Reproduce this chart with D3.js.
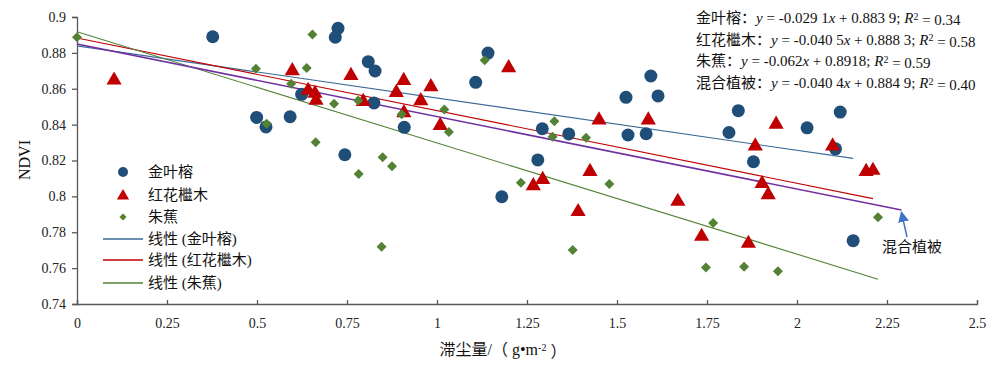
<!DOCTYPE html>
<html><head><meta charset="utf-8">
<script src="https://cdn.jsdelivr.net/npm/d3@7/dist/d3.min.js"></script>
<style>
body{margin:0;background:#fff;}
svg{display:block;font-family:"Liberation Serif","Noto Sans CJK SC",serif;}
</style></head><body>
<svg id="chart" width="1000" height="367"></svg>
<script>
// ---- data ----
const seriesNames = ["金叶榕", "红花檵木", "朱蕉"];
const jinyerong = [[0.377,0.889],[0.499,0.844],[0.525,0.8387],[0.592,0.8444],[0.624,0.8569],[0.7175,0.8887],[0.725,0.8937],[0.744,0.8232],[0.809,0.8751],[0.828,0.8699],[0.825,0.8521],[0.909,0.8385],[1.1075,0.8636],[1.1417,0.8799],[1.18,0.7998],[1.28,0.8203],[1.2925,0.8377],[1.366,0.8348],[1.525,0.8552],[1.5306,0.8342],[1.581,0.8349],[1.594,0.8671],[1.614,0.856],[1.811,0.8356],[1.837,0.8478],[1.879,0.8193],[2.028,0.8382],[2.107,0.8265],[2.12,0.847],[2.156,0.7753]];
const honghuajimu = [[0.103,0.8656],[0.598,0.8708],[0.642,0.8599],[0.661,0.8582],[0.664,0.8543],[0.761,0.8682],[0.795,0.8537],[0.887,0.8587],[0.9075,0.8654],[0.908,0.8474],[0.955,0.8541],[0.983,0.8619],[1.009,0.8403],[1.199,0.8725],[1.2675,0.8067],[1.2936,0.8102],[1.392,0.7923],[1.425,0.8147],[1.45,0.8434],[1.587,0.8434],[1.669,0.798],[1.735,0.7785],[1.865,0.7746],[1.884,0.8289],[1.903,0.8079],[1.92,0.8017],[1.942,0.841],[2.099,0.8289],[2.192,0.8147],[2.211,0.8153]];
const zhujiao = [[0,0.8887],[0.497,0.8712],[0.527,0.8405],[0.595,0.8628],[0.638,0.8716],[0.654,0.8902],[0.663,0.8302],[0.714,0.8517],[0.781,0.8535],[0.7825,0.8125],[0.846,0.7719],[0.849,0.8218],[0.875,0.8168],[0.902,0.8458],[1.0203,0.8485],[1.033,0.8359],[1.1325,0.8759],[1.233,0.8076],[1.321,0.8333],[1.326,0.8419],[1.377,0.7701],[1.414,0.8327],[1.4786,0.8069],[1.747,0.7604],[1.767,0.7852],[1.853,0.7608],[1.947,0.7583],[2.225,0.7884]];
// trend lines: [slope, intercept, xEnd]
const trendJinyerong = [-0.0291, 0.8839, 2.156];
const trendHonghua = [-0.0405, 0.8883, 2.211];
const trendZhujiao = [-0.062, 0.8918, 2.225];
const trendMixed = [-0.0404, 0.8849, 2.29];
const xTicks = [0,0.25,0.5,0.75,1,1.25,1.5,1.75,2,2.25,2.5];
const yTicks = [0.74,0.76,0.78,0.8,0.82,0.84,0.86,0.88,0.9];
const equations = [
  ["金叶榕：", "-0.029 1", "0.883 9", "0.34"],
  ["红花檵木：", "-0.040 5", "0.888 3", "0.58"],
  ["朱蕉：", "-0.062", "0.8918", "0.59"],
  ["混合植被：", "-0.040 4", "0.884 9", "0.40"]
];

// ---- layout ----
const svg = d3.select("#chart");
const x = d3.scaleLinear().domain([0,2.5]).range([77,977]);
const y = d3.scaleLinear().domain([0.74,0.9]).range([304,17]);
const axisColor = "#595959";
const cBlue = "#1F4E79", cRed = "#C00000", cGreen = "#548235", cPurple = "#7030A0", cTrendBlue = "#3A6A96";

// axes
const xAxis = svg.append("g").attr("transform","translate(0,304)")
  .call(d3.axisBottom(x).tickValues(xTicks).tickFormat(d3.format("")).tickSizeInner(-4).tickSizeOuter(-4).tickPadding(14));
const yAxis = svg.append("g").attr("transform","translate(77,0)")
  .call(d3.axisLeft(y).tickValues(yTicks).tickFormat(d=>String(+d.toFixed(2))).tickSizeInner(5).tickSizeOuter(5).tickPadding(6));
[xAxis,yAxis].forEach(g=>{
  g.selectAll("path,line").attr("stroke",axisColor).attr("stroke-width",1.3);
  g.selectAll("text").attr("fill","#222").style("font-size","14px").style("font-family","Liberation Serif");
});

// trend lines
const lines = [[trendJinyerong,cTrendBlue,1.1],[trendHonghua,cRed,1.1],[trendZhujiao,cGreen,1.1],[trendMixed,cPurple,1.6]];
lines.forEach(([t,c,w])=>{
  svg.append("line").attr("x1",x(0)).attr("y1",y(t[1])).attr("x2",x(t[2])).attr("y2",y(t[1]+t[0]*t[2]))
    .attr("stroke",c).attr("stroke-width",w);
});

// markers
const tri = d3.symbol().type(d3.symbolTriangle).size(100);
const sq = d3.symbol().type(d3.symbolSquare).size(50);
svg.append("g").selectAll("circle").data(jinyerong).join("circle")
  .attr("cx",d=>x(d[0])).attr("cy",d=>y(d[1])).attr("r",6.5).attr("fill",cBlue);
svg.append("g").selectAll("path").data(honghuajimu).join("path")
  .attr("d",tri).attr("transform",d=>`translate(${x(d[0])},${y(d[1])+1.5})`).attr("fill",cRed);
svg.append("g").selectAll("path").data(zhujiao).join("path")
  .attr("d",sq).attr("transform",d=>`translate(${x(d[0])},${y(d[1])}) rotate(45)`).attr("fill",cGreen);

// legend
const lg = svg.append("g").style("font-size","15px");
const lx = 123, ltx = 148;
lg.append("circle").attr("cx",lx).attr("cy",172).attr("r",5).attr("fill",cBlue);
lg.append("path").attr("d",d3.symbol().type(d3.symbolTriangle).size(65)).attr("transform",`translate(${lx},196)`).attr("fill",cRed);
lg.append("path").attr("d",d3.symbol().type(d3.symbolSquare).size(26)).attr("transform",`translate(${lx},217) rotate(45)`).attr("fill",cGreen);
const legendRows = [
  [seriesNames[0],172,null],[seriesNames[1],195,null],[seriesNames[2],217,null],
  ["线性 ("+seriesNames[0]+")",239,cTrendBlue],["线性 ("+seriesNames[1]+")",260,cRed],["线性 ("+seriesNames[2]+")",283,cGreen]
];
legendRows.forEach(([t,yy,c])=>{
  if(c) lg.append("line").attr("x1",103).attr("x2",143).attr("y1",yy).attr("y2",yy).attr("stroke",c).attr("stroke-width",1.3);
  lg.append("text").attr("x",ltx).attr("y",yy).attr("dy","0.35em").attr("fill","#111").text(t);
});

// equations
const eg = svg.append("g").style("font-size","15px").attr("fill","#111");
equations.forEach((e,i)=>{
  const t = eg.append("text").attr("x",696).attr("y",18+i*21.6).attr("dy","0.35em");
  t.append("tspan").text(e[0]);
  t.append("tspan").style("font-style","italic").text("y");
  t.append("tspan").text(" = "+e[1]);
  t.append("tspan").style("font-style","italic").text("x");
  t.append("tspan").text(" + "+e[2]+"; ");
  t.append("tspan").style("font-style","italic").text("R");
  t.append("tspan").attr("dy","-0.35em").style("font-size","10px").text("2");
  t.append("tspan").attr("dy","0.35em").text(" = "+e[3]);
});

// annotation arrow
const defs = svg.append("defs");
defs.append("marker").attr("id","ah").attr("viewBox","0 0 10 10").attr("refX",9).attr("refY",5)
  .attr("markerWidth",6).attr("markerHeight",6).attr("markerUnits","userSpaceOnUse").attr("orient","auto")
  .append("path").attr("d","M0,0L10,5L0,10z").attr("fill","#4472C4");
svg.select("#ah").attr("markerWidth",11).attr("markerHeight",11);
svg.append("line").attr("x1",907).attr("y1",237).attr("x2",x(2.29)).attr("y2",y(0.8849 - 0.0404*2.29)+2)
  .attr("stroke","#4472C4").attr("stroke-width",1.5).attr("marker-end","url(#ah)");
svg.append("text").attr("x",912).attr("y",247).attr("dy","0.35em").attr("text-anchor","middle")
  .style("font-size","15px").attr("fill","#111").text("混合植被");

// axis titles
svg.append("text").attr("transform","translate(24,160) rotate(-90)").attr("text-anchor","middle").attr("dy","0.35em")
  .style("font-size","16px").attr("fill","#111").text("NDVI");
const xt = svg.append("text").attr("x",503).attr("y",349).attr("dy","0.35em").attr("text-anchor","middle")
  .style("font-size","16px").attr("fill","#111");
xt.append("tspan").text("滞尘量/（ g•m");
xt.append("tspan").attr("dy","-0.4em").style("font-size","10px").text("-2");
xt.append("tspan").attr("dy","0.4em").text(" ）");
</script></body></html>
